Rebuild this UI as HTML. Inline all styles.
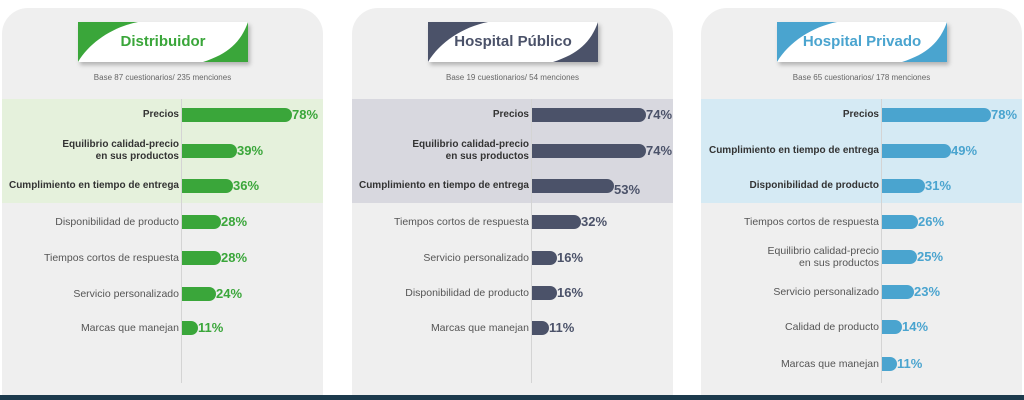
<!DOCTYPE html>
<html><head><meta charset="utf-8"><style>
*{margin:0;padding:0;box-sizing:border-box}
body{width:1024px;height:400px;background:#fff;position:relative;overflow:hidden;font-family:"Liberation Sans",sans-serif}
.panel{position:absolute;top:8px;width:321px;height:392px;background:#efefef;border-radius:26px 26px 0 0;overflow:hidden}
.band{position:absolute;left:0;right:0;top:91px;height:104px}
.axis{position:absolute;top:91px;height:284px;width:1px;background:#d4d4d4}
.hdr{position:absolute;top:14px;width:170px;height:40px;box-shadow:2px 3px 4px rgba(0,0,0,0.25)}
.hdr svg{position:absolute;left:0;top:0}
.hdr span{position:absolute;left:0;right:0;top:11px;text-align:center;font-size:15px;font-weight:bold}
.base{position:absolute;left:0;right:0;top:65px;text-align:center;font-size:8px;color:#666}
.lab{position:absolute;text-align:right;font-size:10.5px;color:#555;line-height:12px}
.lab.b{color:#333;font-weight:bold;font-size:10px}
.bar{position:absolute;height:14px;border-radius:0 7px 7px 0}
.val{position:absolute;font-size:13px;font-weight:bold;line-height:14px}
.foot{position:absolute;left:0;top:395px;width:1024px;height:5px;background:#1c3a4c}
</style></head><body>
<div id="root"></div>
<div class="foot"></div>
<script>
var P=[
{x:2,c:'#3aa63a',band:'#e5f1dc',t:'Distribuidor',b:'Base 87 cuestionarios/ 235 menciones',ax:181,s:1.41,hl:3,
r:[['Precios',78,115],['Equilibrio calidad-precio<br>en sus productos',39,151],['Cumplimiento en tiempo de entrega',36,186],['Disponibilidad de producto',28,222],['Tiempos cortos de respuesta',28,258],['Servicio personalizado',24,294],['Marcas que manejan',11,328]]},
{x:352,c:'#4b5269',band:'#d8d8df',t:'Hospital Público',b:'Base 19 cuestionarios/ 54 menciones',ax:531,s:1.54,hl:3,
r:[['Precios',74,115],['Equilibrio calidad-precio<br>en sus productos',74,151],['Cumplimiento en tiempo de entrega',53,186,4],['Tiempos cortos de respuesta',32,222],['Servicio personalizado',16,258],['Disponibilidad de producto',16,293],['Marcas que manejan',11,328]]},
{x:701,c:'#4aa4cf',band:'#d5eaf4',t:'Hospital Privado',b:'Base 65 cuestionarios/ 178 menciones',ax:881,s:1.40,hl:3,
r:[['Precios',78,115],['Cumplimiento en tiempo de entrega',49,151],['Disponibilidad de producto',31,186],['Tiempos cortos de respuesta',26,222],['Equilibrio calidad-precio<br>en sus productos',25,257],['Servicio personalizado',23,292],['Calidad de producto',14,327],['Marcas que manejan',11,364]]}
];
var h='';
P.forEach(function(p){
 h+='<div class="panel" style="left:'+p.x+'px"><div class="band" style="background:'+p.band+'"></div>';
 h+='<div class="axis" style="left:'+(p.ax-p.x)+'px"></div>';
 h+='<div class="hdr" style="left:'+(76)+'px;background:#fff"><svg width="170" height="40"><path d="M0 0H60C35 5 12 20 0 40Z" fill="'+p.c+'"/><path d="M170 0V40H125C150 32 163 20 170 0Z" fill="'+p.c+'"/></svg><span style="color:'+(p.x==352?'#4b5269':p.c)+'">'+p.t+'</span></div>';
 h+='<div class="base">'+p.b+'</div></div>';
 p.r.forEach(function(r,i){
  var cy=r[2], two=r[0].indexOf('<br>')>0, w=Math.round(r[1]*p.s);
  h+='<div class="lab'+(i<p.hl?' b':'')+'" style="left:'+(p.x)+'px;width:'+(p.ax-p.x-2)+'px;top:'+(cy-(two?12:6))+'px">'+r[0]+'</div>';
  h+='<div class="bar" style="background:'+p.c+';left:'+(p.ax+1)+'px;top:'+(cy-7)+'px;width:'+w+'px"></div>';
  h+='<div class="val" style="color:'+p.c+';left:'+(p.ax+w+1)+'px;top:'+(cy-7+(r[3]||0))+'px">'+r[1]+'%</div>';
 });
});
document.getElementById('root').innerHTML=h;
</script>
</body></html>
